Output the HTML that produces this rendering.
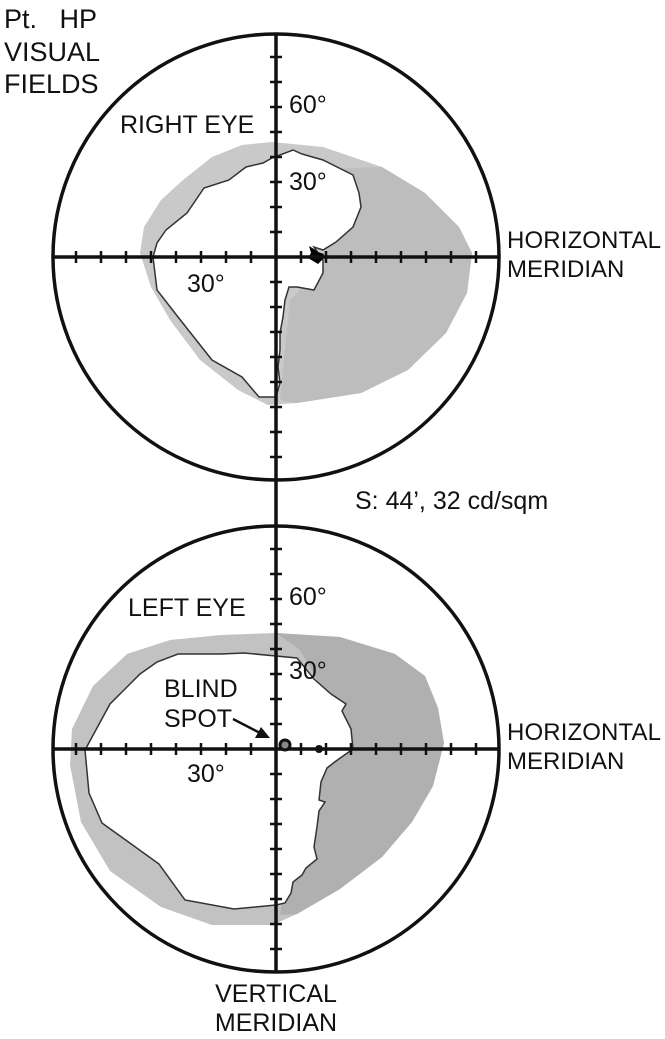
<!DOCTYPE html>
<html><head><meta charset="utf-8"><style>
html,body{margin:0;padding:0;background:#fff}
svg{display:block}
text{font-family:"Liberation Sans",Arial,sans-serif;fill:#111}
</style></head><body>
<svg width="665" height="1039" viewBox="0 0 665 1039" xmlns="http://www.w3.org/2000/svg">
<!-- TOP grey field -->
<polygon fill="#c9c9c9" points="272,142 323,147 382,167 425,193 459,227 472,253 467,293 446,333 408,370 361,393 297,403 268,405 238,390 200,360 170,320 151,287 140,253 144,227 161,200 183,180 212,157 242,145"/>
<polygon fill="#bdbdbd" points="300,170 382,167 425,193 459,227 472,253 467,293 446,333 408,370 361,393 297,403 280,400 290,300 330,260"/>
<polygon fill="#fff" stroke="#333" stroke-width="1.5" points="272,158 293,150 302,154 323,160 353,175 359,193 361,207 353,227 336,242 323,250 314,247 323,260 323,273 314,290 297,287 289,287 285,300 283,317 280,333 280,350 278,367 280,383 276,397 259,397 242,377 212,360 178,317 157,290 153,257 157,243 166,230 187,213 204,188 229,180 246,167 263,163"/>
<polygon fill="#000" points="309,246 314,249 318,252 324,254 322,260 318,264 313,261 308,258 311,253"/>
<!-- BOTTOM grey field -->
<polygon fill="#c2c2c2" points="276,633 340,637 395,654 425,676 438,708 444,743 433,786 412,822 382,857 340,889 297,914 272,925 212,925 161,907 110,871 81,822 70,765 72,729 93,686 127,654 170,640 221,635"/>
<polygon fill="#b0b0b0" points="276,633 340,637 395,654 425,676 438,708 444,743 433,786 412,822 382,857 340,889 297,914 280,915 300,800 340,720 300,650"/>
<polygon fill="#fff" stroke="#333" stroke-width="1.5" points="276,656 297,658 314,679 331,694 346,704 342,711 351,729 353,749 336,761 327,768 321,782 319,800 325,802 319,811 317,827 314,847 317,859 306,868 302,875 293,882 291,893 285,903 276,905 234,909 185,900 159,864 102,823 89,793 85,750 110,704 140,674 157,662 178,654 221,654 244,653"/>
<!-- circles -->
<circle cx="276" cy="257" r="223" fill="none" stroke="#111" stroke-width="3.5"/>
<circle cx="276" cy="749" r="223" fill="none" stroke="#111" stroke-width="3.5"/>
<!-- axes -->
<line x1="276" y1="33" x2="276" y2="972" stroke="#111" stroke-width="3.5"/>
<line x1="53" y1="257" x2="499" y2="257" stroke="#111" stroke-width="3.5"/>
<line x1="53" y1="749" x2="499" y2="749" stroke="#111" stroke-width="3.5"/>
<g stroke="#111" stroke-width="2.5">
<path d="M76,251v12M101,251v12M126,251v12M151,251v12M176,251v12M201,251v12M226,251v12M251,251v12M301,251v12M326,251v12M351,251v12M376,251v12M401,251v12M426,251v12M451,251v12M476,251v12"/>
<path d="M270,57h12M270,82h12M270,107h12M270,132h12M270,157h12M270,182h12M270,207h12M270,232h12M270,282h12M270,307h12M270,332h12M270,357h12M270,382h12M270,407h12M270,432h12M270,457h12"/>
<path d="M76,743v12M101,743v12M126,743v12M151,743v12M176,743v12M201,743v12M226,743v12M251,743v12M301,743v12M326,743v12M351,743v12M376,743v12M401,743v12M426,743v12M451,743v12M476,743v12"/>
<path d="M270,549h12M270,574h12M270,599h12M270,624h12M270,649h12M270,674h12M270,699h12M270,724h12M270,774h12M270,799h12M270,824h12M270,849h12M270,874h12M270,899h12M270,924h12M270,949h12"/>
</g>
<!-- blind spot -->
<circle cx="285" cy="745" r="5" fill="#888" stroke="#111" stroke-width="3"/>
<circle cx="319" cy="749" r="4" fill="#111"/>
<line x1="233" y1="719" x2="262" y2="734" stroke="#111" stroke-width="2.5"/>
<polygon fill="#111" points="270,738 255,738 261,727"/>
<!-- text -->
<text x="4" y="28" font-size="27">Pt.&#160;&#160;&#160;HP</text>
<text x="4" y="61" font-size="27">VISUAL</text>
<text x="4" y="93" font-size="27">FIELDS</text>
<text x="120" y="133" font-size="25">RIGHT EYE</text>
<text x="289" y="113" font-size="25">60°</text>
<text x="289" y="190" font-size="25">30°</text>
<text x="187" y="292" font-size="25">30°</text>
<text x="507" y="248" font-size="24" textLength="154">HORIZONTAL</text>
<text x="507" y="277" font-size="24">MERIDIAN</text>
<text x="355" y="509" font-size="25">S: 44’, 32 cd/sqm</text>
<text x="128" y="616" font-size="25">LEFT EYE</text>
<text x="289" y="605" font-size="25">60°</text>
<text x="289" y="679" font-size="25">30°</text>
<text x="164" y="697" font-size="25">BLIND</text>
<text x="164" y="727" font-size="25">SPOT</text>
<text x="187" y="782" font-size="25">30°</text>
<text x="507" y="740" font-size="24" textLength="154">HORIZONTAL</text>
<text x="507" y="769" font-size="24">MERIDIAN</text>
<text x="276" y="1002" font-size="25" text-anchor="middle">VERTICAL</text>
<text x="276" y="1031" font-size="25" text-anchor="middle">MERIDIAN</text>
</svg>
</body></html>
